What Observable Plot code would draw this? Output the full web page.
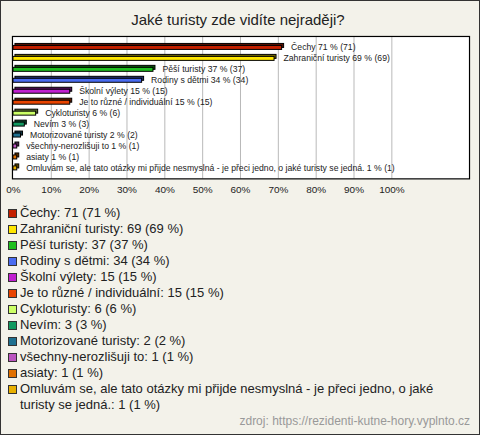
<!DOCTYPE html>
<html>
<head>
<meta charset="utf-8">
<script src="https://cdn.jsdelivr.net/npm/d3@7"></script>
<script src="https://cdn.jsdelivr.net/npm/@observablehq/plot@0.6"></script>
<style>
  html, body { margin: 0; padding: 0; }
  #card {
    position: relative; width: 478px; height: 433px;
    border: 1px solid #333; background: #f3f2ea;
    font-family: "Liberation Sans", Arial, sans-serif; color: #222;
    overflow: hidden;
  }
  #title { position: absolute; left: 0; width: 474px; top: 9px; text-align: center; font-size: 15px; line-height: 20px; }
  #chart { position: absolute; left: -1px; top: 29px; }
  #legend { position: absolute; left: 7px; top: 204px; width: 455px; font-size: 13px; line-height: 16px; }
  .item { position: relative; padding-left: 12px; }
  .sw { position: absolute; left: 0; top: 4px; width: 7px; height: 7px; border: 1px solid #333; }
  #source { position: absolute; right: 9px; top: 413px; font-size: 12px; color: #999; }
</style>
</head>
<body>
<div id="card">
  <div id="title"></div>
  <div id="chart"></div>
  <div id="legend"></div>
  <div id="source"></div>
</div>
<script>
const titleText = "Jaké turisty zde vidíte nejraději?";
const sourceText = "zdroj: https://rezidenti-kutne-hory.vyplnto.cz";
const categories = [
  "Čechy",
  "Zahraniční turisty",
  "Pěší turisty",
  "Rodiny s dětmi",
  "Školní výlety",
  "Je to různé / individuální",
  "Cykloturisty",
  "Nevím",
  "Motorizované turisty",
  "všechny-nerozlišuji to",
  "asiaty",
  "Omluvám se, ale tato otázky mi přijde nesmyslná - je přeci jedno, o jaké turisty se jedná."
];
const counts = [71, 69, 37, 34, 15, 15, 6, 3, 2, 1, 1, 1];
const percents = [71, 69, 37, 34, 15, 15, 6, 3, 2, 1, 1, 1];
const colors = ["#c42000", "#ffe600", "#1fbf1f", "#4a6cf0", "#c01fd0", "#e84400", "#ccff66", "#119960", "#1f7090", "#bb55c0", "#e07000", "#e8b000"];
const xTicks = [0, 10, 20, 30, 40, 50, 60, 70, 80, 90, 100];

const data = categories.map((c, i) => ({cat: c, n: counts[i], p: percents[i], color: colors[i],
  dark: d3.color(colors[i]).darker(2.2).formatHex()}));

document.getElementById("title").textContent = titleText;
document.getElementById("source").textContent = sourceText;

const plot = Plot.plot({
  width: 481, height: 166,
  marginTop: 6, marginBottom: 17, marginLeft: 12, marginRight: 10,
  x: {domain: [0, 120], range: [13, 469], axis: null},
  y: {domain: categories, axis: null, padding: 0},
  color: {type: "identity"},
  style: {background: "transparent", fontFamily: "'Liberation Sans', Arial, sans-serif"},
  marks: [
    Plot.frame({fill: "white"}),
    Plot.gridX(xTicks.slice(1), {stroke: "#b8b8b8", strokeOpacity: 1}),
    Plot.axisX(xTicks, {tickSize: 0, tickPadding: 7, tickFormat: d => d + "%", fontSize: 10, fill: "#222", label: null}),
    Plot.barX(data, {x: "p", y: "cat", fill: "dark", stroke: "#000", strokeWidth: 1, dx: 2, dy: -2, insetTop: 3.5, insetBottom: 3.5}),
    Plot.barX(data, {x: "p", y: "cat", fill: "color", stroke: "#000", strokeWidth: 1, insetTop: 3.5, insetBottom: 3.5}),
    Plot.text(data, {x: "p", y: "cat", text: d => `${d.cat} ${d.p} % (${d.n})`, dx: 9, dy: -0.5, textAnchor: "start", fontSize: 8.7, fill: "#222"}),
    Plot.frame({stroke: "#000", strokeWidth: 1.2})
  ]
});
document.getElementById("chart").appendChild(plot);

const legend = document.getElementById("legend");
data.forEach(d => {
  const item = document.createElement("div");
  item.className = "item";
  const sw = document.createElement("span");
  sw.className = "sw";
  sw.style.background = d.color;
  item.appendChild(sw);
  item.appendChild(document.createTextNode(`${d.cat}: ${d.n} (${d.p} %)`));
  legend.appendChild(item);
});
</script>
</body>
</html>
